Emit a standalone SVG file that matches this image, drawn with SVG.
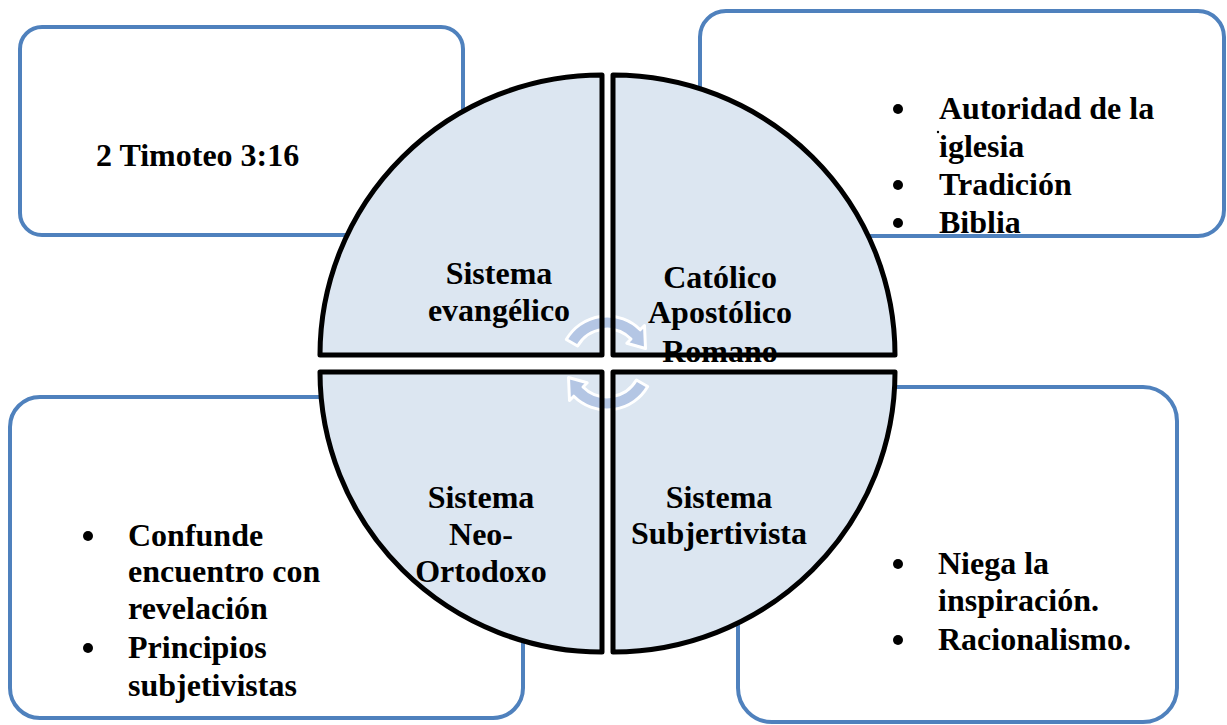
<svg xmlns="http://www.w3.org/2000/svg" xmlns:xlink="http://www.w3.org/1999/xlink" width="1227" height="725" viewBox="0 0 1227 725">
<style>
.box{fill:#ffffff;stroke:#4F81BD;stroke-width:4}
.qf{fill:#DCE6F1;stroke:none}
.qs{fill:none;stroke:#000000;stroke-width:5;stroke-linejoin:round}
.arr{fill:#B4C6E4;stroke:#ffffff;stroke-width:3;stroke-linejoin:round}
text{font-family:"Liberation Serif","Times New Roman",serif;font-weight:bold;font-size:32px;fill:#000000}
.c{text-anchor:middle}
.b{fill:#000000}
</style>
<defs>
<path id="qTL" d="M602,355 L320,355 A282,280 0 0 1 602,75 Z"/>
<path id="qTR" d="M613,355 L613,75 A282,280 0 0 1 895,355 Z"/>
<path id="qBL" d="M602,372 L602,652 A282,280 0 0 1 320,372 Z"/>
<path id="qBR" d="M613,372 L895,372 A282,280 0 0 1 613,652 Z"/>
<path id="arcTop" d="M566.3,339.5 A47,47 0 0 1 640.2,329.8 L644.5,325.5 L645.5,348.5 L626.8,343.2 L631.0,339.0 A34,34 0 0 0 577.6,346.0 Z"/>
</defs>

<g id="box-tl"><rect class="box" x="20" y="27" width="443" height="208" rx="22"/>
<text x="96" y="166">2 Timoteo 3:16</text></g>

<g id="box-tr"><rect class="box" x="700" y="11" width="524" height="225" rx="26"/>
<circle class="b" cx="898" cy="109" r="5"/><text x="939" y="119">Autoridad de la</text>
<circle class="b" cx="938" cy="132" r="1.2"/>
<text x="939" y="157">iglesia</text>
<circle class="b" cx="898" cy="185" r="5"/><text x="939" y="195">Tradición</text>
<circle class="b" cx="898" cy="223" r="5"/><text x="939" y="233">Biblia</text></g>

<g id="box-bl"><rect class="box" x="10" y="397" width="513" height="321" rx="30"/>
<circle class="b" cx="88" cy="536" r="5"/><text x="128" y="546">Confunde</text>
<text x="128" y="582">encuentro con</text>
<text x="128" y="619">revelación</text>
<circle class="b" cx="88" cy="648" r="5"/><text x="128" y="658">Principios</text>
<text x="128" y="696">subjetivistas</text></g>

<g id="box-br"><rect class="box" x="738" y="387" width="439" height="335" rx="34"/>
<circle class="b" cx="898" cy="564" r="5"/><text x="938" y="574">Niega la</text>
<text x="938" y="611">inspiración.</text>
<circle class="b" cx="898" cy="640" r="5"/><text x="938" y="650">Racionalismo.</text></g>

<g id="quadrant-fills">
<use xlink:href="#qTL" class="qf"/><use xlink:href="#qTR" class="qf"/>
<use xlink:href="#qBL" class="qf"/><use xlink:href="#qBR" class="qf"/>
</g>

<g id="connectors">
<use xlink:href="#arcTop" class="arr"/>
<use xlink:href="#arcTop" class="arr" transform="rotate(180 607 363)"/>
</g>

<g id="quadrant-outlines">
<use xlink:href="#qTL" class="qs"/><use xlink:href="#qTR" class="qs"/>
<use xlink:href="#qBL" class="qs"/><use xlink:href="#qBR" class="qs"/>
</g>

<g id="node-evangelico"><text class="c" x="499" y="284">Sistema</text><text class="c" x="499" y="321">evangélico</text></g>
<g id="node-catolico"><text class="c" x="720" y="288">Católico</text><text class="c" x="720" y="323">Apostólico</text><text class="c" x="720" y="362">Romano</text></g>
<g id="node-neo"><text class="c" x="481" y="508">Sistema</text><text class="c" x="481" y="545">Neo-</text><text class="c" x="481" y="582">Ortodoxo</text></g>
<g id="node-subj"><text class="c" x="719" y="508">Sistema</text><text class="c" x="719" y="544">Subjertivista</text></g>
</svg>
